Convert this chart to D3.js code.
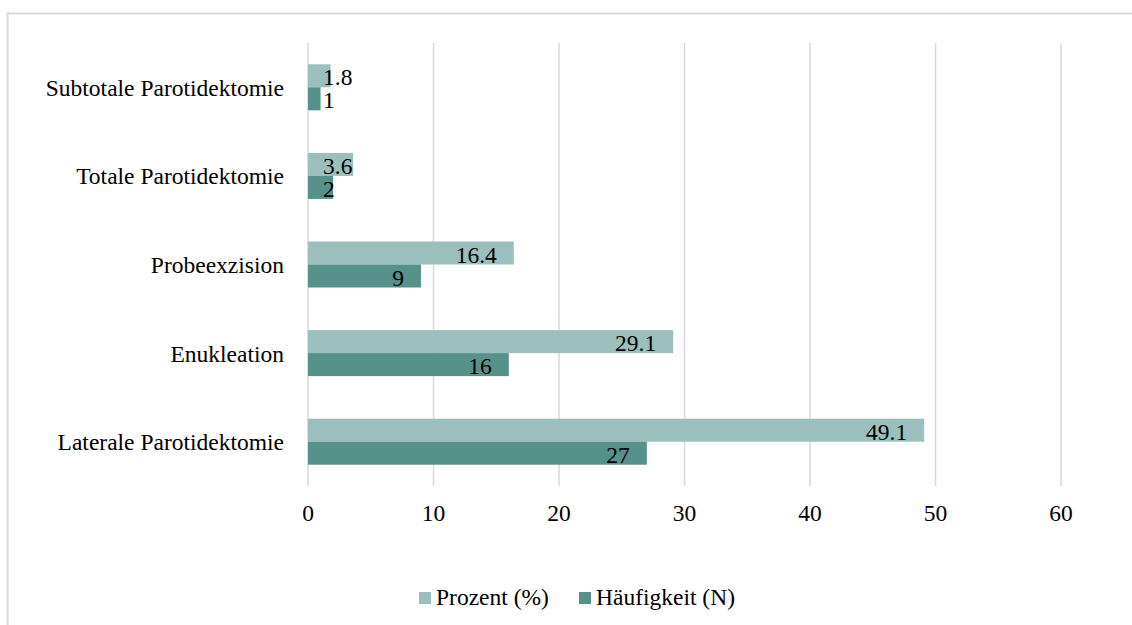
<!DOCTYPE html>
<html>
<head>
<meta charset="utf-8">
<script src="https://cdn.jsdelivr.net/npm/d3@7"></script>
<style>
  html, body { margin: 0; padding: 0; background: #fff; }
  svg { display: block; }
</style>
</head>
<body>
<svg id="chart" width="1132" height="625"></svg>
<script>
// Operation types, listed top to bottom
const categories = [
  "Subtotale Parotidektomie",
  "Totale Parotidektomie",
  "Probeexzision",
  "Enukleation",
  "Laterale Parotidektomie"
];
const prozent = [1.8, 3.6, 16.4, 29.1, 49.1];
const haeufigkeit = [1, 2, 9, 16, 27];
const seriesNames = ["Prozent (%)", "Häufigkeit (N)"];
const xTicks = [0, 10, 20, 30, 40, 50, 60];

const colors = ["#9bbfbc", "#56918a"];
const series = [prozent, haeufigkeit];
const FONT = "'Liberation Serif', 'Times New Roman', Times, serif";
const FS = 23.5;

const svg = d3.select("#chart")
  .attr("font-family", FONT)
  .attr("font-size", FS);

// outer frame
svg.append("rect")
  .attr("x", 7.5).attr("y", 13.5)
  .attr("width", 1140).attr("height", 640)
  .attr("fill", "none").attr("stroke", "#d9d9d9").attr("stroke-width", 2);

const x = d3.scaleLinear().domain([0, 60]).range([308, 1061]);
const y = d3.scaleBand().domain(categories).range([43, 486]);
const barH = 23;

// vertical gridlines
svg.append("g").selectAll("line")
  .data(xTicks)
  .join("line")
  .attr("x1", d => x(d)).attr("x2", d => x(d))
  .attr("y1", 43).attr("y2", 486)
  .attr("stroke", "#d9d9d9").attr("stroke-width", 1.5);

// x tick labels
svg.append("g").selectAll("text")
  .data(xTicks)
  .join("text")
  .attr("x", d => x(d)).attr("y", 521)
  .attr("text-anchor", "middle")
  .text(d => d);

// category labels
svg.append("g").selectAll("text")
  .data(categories)
  .join("text")
  .attr("x", 284)
  .attr("y", d => y(d) + y.bandwidth() / 2 + 8.5)
  .attr("text-anchor", "end")
  .text(d => d);

// bars and value labels
series.forEach((vals, si) => {
  const g = svg.append("g");
  const rows = categories.map((c, i) => ({ c, v: vals[i] }));
  const yOf = d => y(d.c) + y.bandwidth() / 2 - barH + si * barH;

  g.selectAll("rect")
    .data(rows)
    .join("rect")
    .attr("x", x(0))
    .attr("y", yOf)
    .attr("width", d => x(d.v) - x(0))
    .attr("height", barH)
    .attr("fill", colors[si]);

  // labels sit inside the bar end; short bars push them right of the axis
  g.selectAll("text")
    .data(rows)
    .join("text")
    .attr("y", d => yOf(d) + barH / 2 + 9.5)
    .text(d => d.v)
    .each(function (d) {
      const w = this.getComputedTextLength();
      const left = Math.max(x(d.v) - 17 - w, x(0) + 15);
      d3.select(this).attr("x", left);
    });
});

// legend
const legend = svg.append("g");
const legendItems = [
  { name: seriesNames[0], color: colors[0], mx: 419, tx: 436 },
  { name: seriesNames[1], color: colors[1], mx: 579, tx: 596 }
];
legendItems.forEach(it => {
  legend.append("rect")
    .attr("x", it.mx).attr("y", 592)
    .attr("width", 12).attr("height", 12)
    .attr("fill", it.color);
  legend.append("text")
    .attr("x", it.tx).attr("y", 605)
    .text(it.name);
});
</script>
</body>
</html>
